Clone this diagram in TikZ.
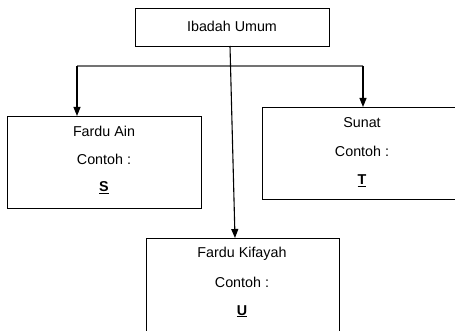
\documentclass[tikz,border=0pt]{standalone}
\usepackage{fontspec}
\setmainfont{Liberation Sans}
\usetikzlibrary{arrows.meta}
\begin{document}
\begin{tikzpicture}[x=1pt,y=-1pt,
  box/.style={draw=black,line width=1.4pt,rectangle,inner sep=0pt,anchor=north west},
  txt/.style={font=\fontsize{14.3}{17}\selectfont,inner sep=0pt,anchor=base},
  conn/.style={draw=black,line width=1.1pt},
  hline/.style={draw=black!55,line width=1.1pt},
  arr/.style={conn,-{Triangle[length=9pt,width=7pt]}}]
\useasboundingbox (0,0) rectangle (455,331);
% boxes
\node[box,minimum width=194pt,minimum height=38pt] (top) at (135,8) {};
\node[box,minimum width=194pt,minimum height=92pt] (ain) at (7,116) {};
\node[box,minimum width=194pt,minimum height=92pt] (sunat) at (262,107) {};
\node[box,minimum width=193pt,minimum height=100pt] (kif) at (146,238) {};
% texts
\node[txt] (topT) at (232,32) {Ibadah Umum};
\node[txt] (ainA) at (104,137) {Fardu Ain};
\node[txt] (ainB) at (104,165) {Contoh :};
\node[txt] (ainC) at (104,192) {\textbf{\underline{S}}};
\node[txt] (sunA) at (362,128) {Sunat};
\node[txt] (sunB) at (362,157) {Contoh :};
\node[txt] (sunC) at (362,185) {\textbf{\underline{T}}};
\node[txt] (kifA) at (242,258) {Fardu Kifayah};
\node[txt] (kifB) at (242,287) {Contoh :};
\node[txt] (kifC) at (242,315) {\textbf{\underline{U}}};
% connectors
\coordinate (hl) at (77,66);
\coordinate (hr) at (363,66);
\coordinate (topS) at (230,46);
\coordinate (kifE) at (235,238);
\draw[hline] (hl) -- (hr);
\draw[arr] (hl) -- (hl |- ain.north);
\draw[arr] (hr) -- (hr |- sunat.north);
\draw[arr] (topS) -- (kifE);
\end{tikzpicture}
\end{document}
